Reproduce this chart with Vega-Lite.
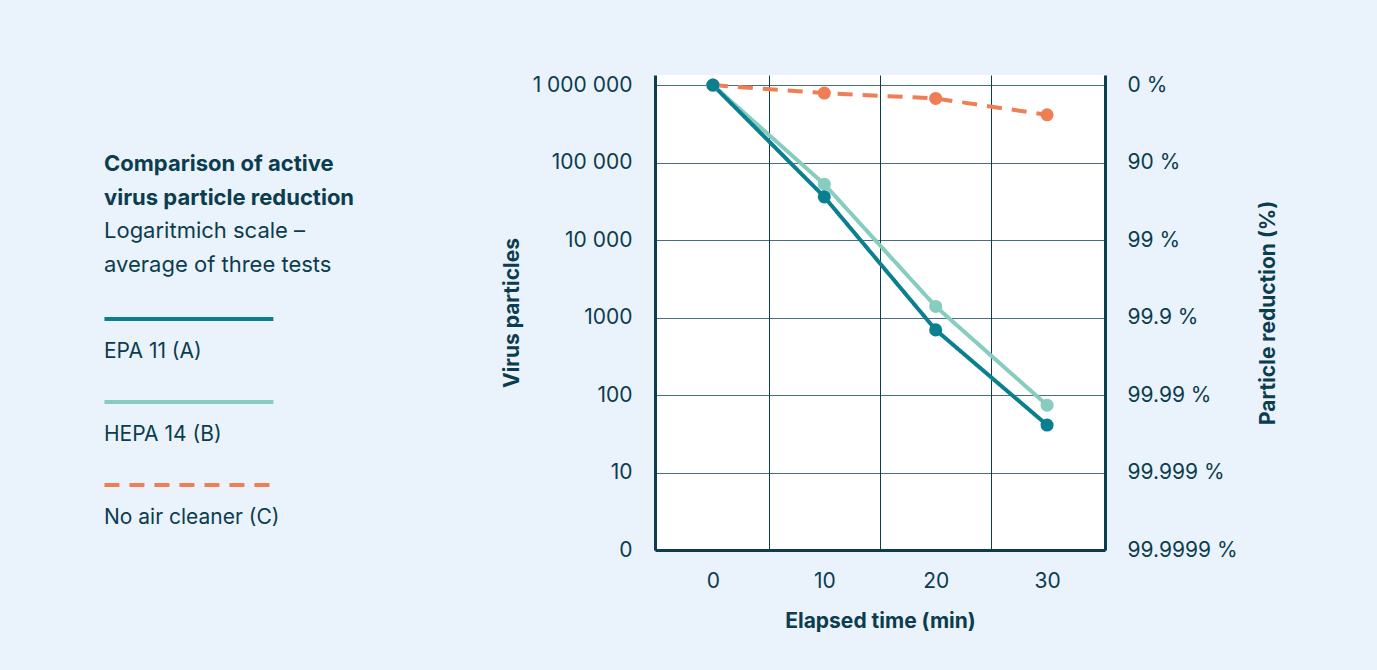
{
  "$schema": "https://vega.github.io/schema/vega-lite/v6.json",
  "autosize": {"type": "none"},
  "padding": {"left": 655, "top": 75, "right": 272, "bottom": 120},
  "width": 450,
  "height": 475,
  "background": "#EAF2FB",
  "config": {
    "font": "Inter",
    "view": {"fill": "white", "stroke": null},
    "axis": {"labelColor": "#0B3D4E", "titleColor": "#0B3D4E", "labelFontSize": 21, "titleFontSize": 21, "titleFontWeight": "bold", "labelFont": "Inter", "titleFont": "Inter", "domainColor": "#0B3D4E", "domainWidth": 3, "gridColor": "#0B3D4E", "gridWidth": 1, "ticks": false, "tickSize": 0},
    "style": {"guide-label": {"lineHeight": 22}}
  },
  "title": {
    "text": ["Comparison of active", "virus particle reduction"],
    "subtitle": ["Logaritmich scale –", "average of three tests"],
    "anchor": "start",
    "frame": "group",
    "orient": "top",
    "dx": -551,
    "dy": 207,
    "font": "Inter",
    "fontSize": 22,
    "fontWeight": "bold",
    "color": "#0B3D4E",
    "lineHeight": 34,
    "subtitleFont": "Inter",
    "subtitleFontSize": 22,
    "subtitleColor": "#0B3D4E",
    "subtitleLineHeight": 34,
    "subtitlePadding": 11
  },
  "data": {
    "values": [
      {"series": "No air cleaner (C)", "time": 0, "particles": 1000000},
      {"series": "No air cleaner (C)", "time": 10, "particles": 789000},
      {"series": "No air cleaner (C)", "time": 20, "particles": 672000},
      {"series": "No air cleaner (C)", "time": 30, "particles": 414000},
      {"series": "HEPA 14 (B)", "time": 0, "particles": 1000000},
      {"series": "HEPA 14 (B)", "time": 10, "particles": 52600},
      {"series": "HEPA 14 (B)", "time": 20, "particles": 1390},
      {"series": "HEPA 14 (B)", "time": 30, "particles": 74},
      {"series": "EPA 11 (A)", "time": 0, "particles": 1000000},
      {"series": "EPA 11 (A)", "time": 10, "particles": 36100},
      {"series": "EPA 11 (A)", "time": 20, "particles": 693},
      {"series": "EPA 11 (A)", "time": 30, "particles": 41}
    ]
  },
  "layer": [
    {
      "mark": {"type": "line", "strokeWidth": 4},
      "encoding": {
        "x": {"field": "time", "type": "quantitative", "scale": {"domain": [-5.2, 35.2], "nice": false, "zero": false},
          "axis": {"values": [0, 10, 20, 30], "grid": false, "title": "Elapsed time (min)", "labelPadding": 20, "titlePadding": 19, "labelFlush": false}},
        "y": {"field": "particles", "type": "quantitative", "scale": {"type": "log", "domain": [1, 1350000], "nice": false},
          "axis": {"orient": "left", "values": [1, 10, 100, 1000, 10000, 100000, 1000000], "grid": true, "gridOpacity": 0.75, "title": "Virus particles", "labelPadding": 23, "titlePadding": 10,
            "labelExpr": "datum.value == 1000000 ? '1 000 000' : datum.value == 100000 ? '100 000' : datum.value == 10000 ? '10 000' : datum.value == 1 ? '0' : format(datum.value, 'd')"}},
        "color": {"field": "series", "type": "nominal",
          "scale": {"domain": ["EPA 11 (A)", "HEPA 14 (B)", "No air cleaner (C)"], "range": ["#0A7F8F", "#86CDBF", "#F07E55"]},
          "legend": {"orient": "none", "legendX": -553, "legendY": 231, "title": null, "symbolType": "M-1,0H15", "symbolSize": 446, "symbolStrokeWidth": 4,
            "labelOffset": -24, "labelBaseline": "top", "labelExpr": "['', datum.label]", "labelFontSize": 21, "labelColor": "#0B3D4E", "labelFont": "Inter", "rowPadding": 27, "labelLimit": 300}},
        "strokeDash": {"field": "series", "type": "nominal",
          "scale": {"domain": ["EPA 11 (A)", "HEPA 14 (B)", "No air cleaner (C)"], "range": [[1, 0], [1, 0], [15, 10]]},
          "legend": {"orient": "none", "legendX": -553, "legendY": 231, "title": null, "symbolType": "M-1,0H15", "symbolSize": 446, "symbolStrokeWidth": 4,
            "labelOffset": -24, "labelBaseline": "top", "labelExpr": "['', datum.label]", "labelFontSize": 21, "labelColor": "#0B3D4E", "labelFont": "Inter", "rowPadding": 27, "labelLimit": 300}}
      }
    },
    {
      "mark": {"type": "point", "filled": true, "opacity": 1, "size": 170},
      "encoding": {
        "x": {"field": "time", "type": "quantitative",
          "axis": {"values": [5, 15, 25], "grid": true, "gridOpacity": 1, "labels": false, "domain": false, "title": null}},
        "y": {"field": "particles", "type": "quantitative",
          "axis": {"orient": "right", "values": [1, 10, 100, 1000, 10000, 100000, 1000000], "grid": false, "title": "Particle reduction (%)", "titleAngle": 270, "titleBaseline": "top", "labelPadding": 22, "titlePadding": 20,
            "labelExpr": "datum.value == 1000000 ? '0 %' : datum.value == 100000 ? '90 %' : datum.value == 10000 ? '99 %' : datum.value == 1000 ? '99.9 %' : datum.value == 100 ? '99.99 %' : datum.value == 10 ? '99.999 %' : '99.9999 %'"}},
        "color": {"field": "series", "type": "nominal", "legend": null}
      }
    }
  ],
  "resolve": {"axis": {"x": "independent", "y": "independent"}}
}
